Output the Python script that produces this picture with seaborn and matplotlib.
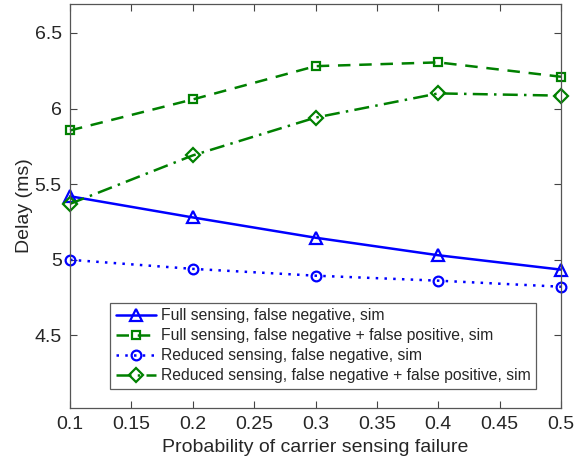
import matplotlib
matplotlib.use("Agg")
import matplotlib.pyplot as plt
import seaborn as sns
import pandas as pd

sns.set_theme(style="white")
plt.rcParams['font.family'] = ['Liberation Sans', 'DejaVu Sans']

x = [0.1, 0.2, 0.3, 0.4, 0.5]
full_fn = [5.42, 5.28, 5.146, 5.03, 4.935]
full_fnfp = [5.855, 6.06, 6.28, 6.305, 6.21]
red_fn = [5.0, 4.94, 4.895, 4.862, 4.822]
red_fnfp = [5.37, 5.69, 5.94, 6.10, 6.085]
labels = ["Full sensing, false negative, sim",
          "Full sensing, false negative + false positive, sim",
          "Reduced sensing, false negative, sim",
          "Reduced sensing, false negative + false positive, sim"]
xticks = [0.1, 0.15, 0.2, 0.25, 0.3, 0.35, 0.4, 0.45, 0.5]
yticks = [4.5, 5, 5.5, 6, 6.5]

series = [full_fn, full_fnfp, red_fn, red_fnfp]
colors = ['#0000ff', '#008000', '#0000ff', '#008000']
markers = ['^', 's', 'o', 'D']
msizes = [8, 6, 7, 7]
lstyles = ['-', (0, (5, 3.5)), (0, (1, 2.5)), (0, (6, 2.5, 1, 2.5))]

fig = plt.figure(figsize=(5.85, 4.59), dpi=100)
ax = fig.add_axes([0.1197, 0.111, 0.8393, 0.880])

for ys, lab, c, m, ms, ls in zip(series, labels, colors, markers, msizes, lstyles):
    df = pd.DataFrame({'x': x, 'y': ys})
    sns.lineplot(data=df, x='x', y='y', ax=ax, color=c, marker=m, markersize=ms,
                 markerfacecolor='none', markeredgecolor=c, markeredgewidth=1.6,
                 linestyle=ls, linewidth=1.8, label=lab, clip_on=False)

ax.set_xlim(0.1, 0.5)
ax.set_ylim(4.02, 6.69)
ax.set_xticks(xticks)
ax.set_xticklabels([f"{t:g}" for t in xticks])
ax.set_yticks(yticks)
ax.set_yticklabels([f"{t:g}" for t in yticks])
ax.tick_params(axis='both', direction='in', length=5, width=0.8, color='#444444',
               labelsize=14, top=True, right=True, bottom=True, left=True, pad=6)
for s in ax.spines.values():
    s.set_color('#555555')
    s.set_linewidth(0.9)
ax.set_xlabel("Probability of carrier sensing failure", fontsize=14, labelpad=4)
ax.set_ylabel("Delay (ms)", fontsize=14, labelpad=1)

leg = ax.legend(loc='lower left', bbox_to_anchor=(0.082, 0.048), fontsize=11.3,
                frameon=True, fancybox=False, edgecolor='#333333', handlelength=2.55,
                borderpad=0.35, labelspacing=0.32, handletextpad=0.3, borderaxespad=0)
leg.get_frame().set_linewidth(0.9)
leg.set_zorder(5)

fig.savefig("out.png", dpi=100)
